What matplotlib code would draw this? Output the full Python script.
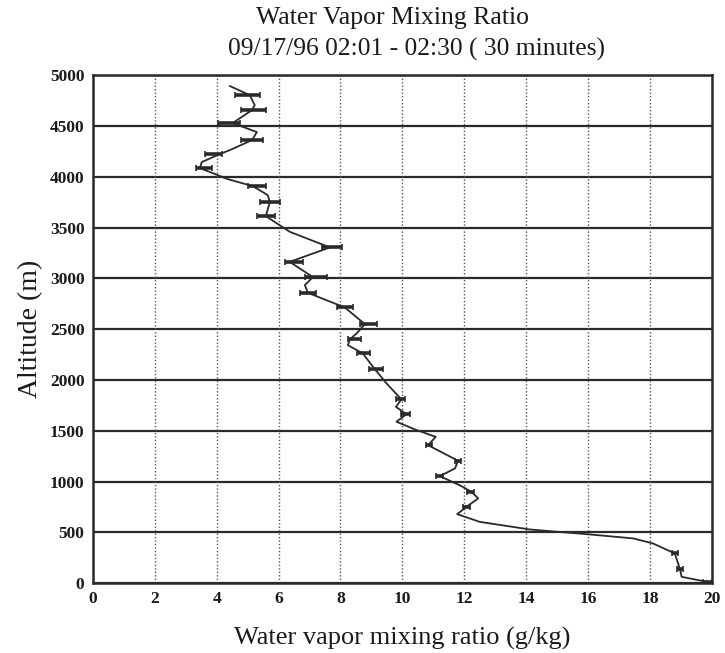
import matplotlib
matplotlib.use("Agg")
import matplotlib.pyplot as plt

# Traced profile (altitude in m, mixing ratio in g/kg)
line_alt = [10, 62, 135, 292, 390, 440, 479, 528, 603, 679, 751, 834, 899, 962,
            1053, 1129, 1204, 1358, 1440, 1506, 1588, 1663, 1735, 1808, 1965,
            2106, 2261, 2342, 2398, 2457, 2549, 2713, 2857, 2933, 3012, 3162,
            3304, 3458, 3612, 3753, 3819, 3907, 3976, 4085, 4144, 4222, 4262,
            4360, 4439, 4528, 4655, 4705, 4803, 4892]
line_wv = [19.88, 19.02, 18.97, 18.8, 18.1, 17.46, 16.06, 14.12, 12.5, 11.77,
           12.07, 12.45, 12.23, 11.86, 11.21, 11.70, 11.8, 10.83, 11.08, 10.46,
           9.81, 10.13, 9.79, 9.97, 9.49, 9.11, 8.72, 8.24, 8.30, 8.52, 8.79,
           8.14, 6.95, 6.85, 7.11, 6.36, 7.66, 6.36, 5.59, 5.72, 5.65, 5.17,
           4.36, 3.46, 3.52, 4.10, 4.43, 5.14, 5.30, 4.52, 5.14, 5.23, 5.07, 4.43]

# Error bars (altitude, centre, half-width)
err_alt = [10, 135, 292, 751, 899, 1053, 1204, 1358, 1663, 1808, 2106, 2261,
           2398, 2549, 2713, 2857, 3012, 3162, 3304, 3612, 3753, 3907, 4085,
           4222, 4360, 4528, 4655, 4803]
err_wv = [19.85, 18.97, 18.8, 12.07, 12.2, 11.2, 11.8, 10.85, 10.1, 9.95, 9.14,
          8.75, 8.45, 8.9, 8.14, 6.95, 7.2, 6.5, 7.72, 5.59, 5.72, 5.3, 3.6,
          3.9, 5.14, 4.39, 5.2, 5.0]
err_hw = [0.15, 0.1, 0.1, 0.1, 0.1, 0.1, 0.1, 0.1, 0.14, 0.14, 0.22, 0.22,
          0.22, 0.27, 0.25, 0.27, 0.35, 0.28, 0.32, 0.3, 0.32, 0.3, 0.26,
          0.28, 0.35, 0.35, 0.4, 0.4]

x_ticks = [0, 2, 4, 6, 8, 10, 12, 14, 16, 18, 20]
y_ticks = [0, 500, 1000, 1500, 2000, 2500, 3000, 3500, 4000, 4500, 5000]

title1 = "Water Vapor Mixing Ratio"
title2 = "09/17/96 02:01 - 02:30 ( 30 minutes)"
xlabel = "Water vapor mixing ratio (g/kg)"
ylabel = "Altitude (m)"

plt.rcParams['font.family'] = ['Liberation Serif', 'DejaVu Serif']

fig = plt.figure(figsize=(7.25, 6.53), dpi=100)
ax = fig.add_axes([0.128, 0.107, 0.854, 0.778])

ink = '#2a2a2a'
for y in y_ticks:
    ax.axhline(y, color=ink, lw=1.6, zorder=1)
for x in x_ticks:
    ax.axvline(x, color='#555555', lw=1.0, ls=(0, (1, 1.5)), zorder=1)

ax.plot(line_wv, line_alt, color=ink, lw=1.3, zorder=3)
ax.errorbar(err_wv, err_alt, xerr=err_hw, fmt='none', ecolor=ink,
            elinewidth=2.6, capsize=2.5, capthick=1.2, zorder=4)

ax.set_xlim(0, 20)
ax.set_ylim(0, 5000)
ax.set_xticks(x_ticks)
ax.set_yticks(y_ticks)
ax.set_xticklabels([str(v) for v in x_ticks])
ax.set_yticklabels([str(v) for v in y_ticks])
ax.tick_params(length=0, labelsize=12.5, pad=6, colors='#1a1a1a')
for lab in ax.get_xticklabels() + ax.get_yticklabels():
    lab.set_fontweight('bold')
for s in ax.spines.values():
    s.set_linewidth(1.8)
    s.set_color(ink)

ax.set_xlabel(xlabel, fontsize=19, labelpad=14, color='#1a1a1a')
ax.set_ylabel(ylabel, fontsize=20, labelpad=5, color='#1a1a1a')

fig.text(0.542, 0.972, title1, ha='center', va='center', fontsize=18.5, color='#1a1a1a')
fig.text(0.574, 0.924, title2, ha='center', va='center', fontsize=18.4, color='#1a1a1a')

fig.savefig("out.png", dpi=100)
